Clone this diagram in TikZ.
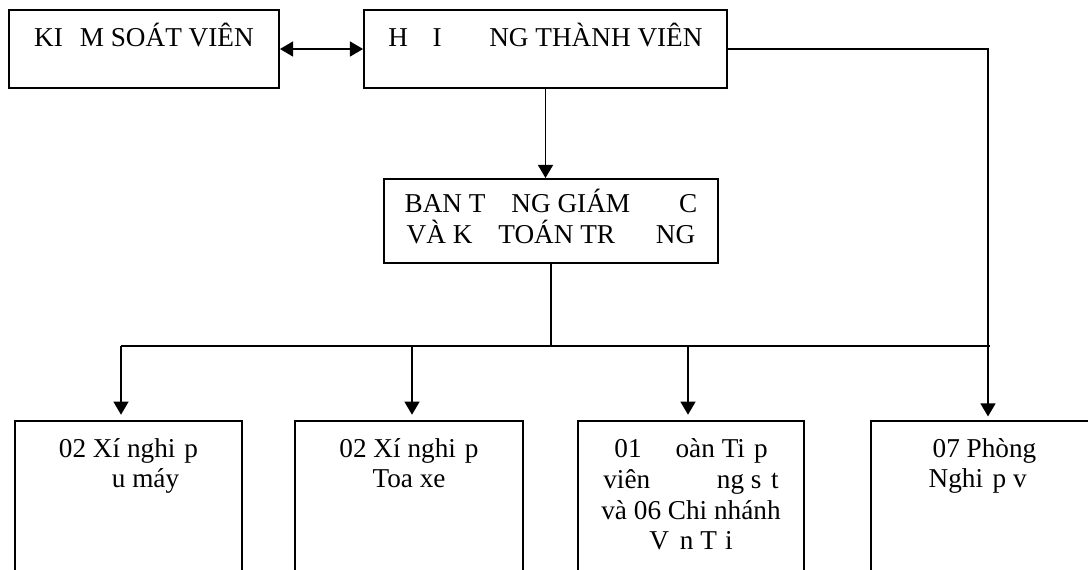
\documentclass[tikz,border=0pt]{standalone}
\usepackage{fontspec}
\setmainfont{Liberation Serif}
\usetikzlibrary{arrows.meta}
\newcommand{\gp}[1]{\hspace*{#1em}}

\begin{document}
\begin{tikzpicture}[
    x=0.02cm, y=-0.02cm,
    orgBox/.style={draw=black, line width=1.1pt, inner sep=0pt},
    orgText/.style={font=\fontsize{15.5}{17.6}\selectfont, align=center,
                    inner sep=0pt, anchor=base},
    orgLine/.style={draw=black, line width=1.1pt},
    orgArrow/.style={orgLine, -{Triangle[width=8.5pt,length=7.5pt]}}]
  \useasboundingbox (0,0) rectangle (1088,569);
  \clip (0,0) rectangle (1088,569);
  % top row
  \node[orgBox, minimum width=5.4cm, minimum height=1.56cm] (ksv) at (144,49) {};
  \node[orgBox, minimum width=7.26cm, minimum height=1.56cm] (hdtv) at (545.5,49) {};
  \node[orgText] (ksvT) at ([yshift=-0.74cm]ksv.north) {KI\gp{0.62}M SOÁT VIÊN};
  \node[orgText] (hdtvT) at ([yshift=-0.74cm]hdtv.north) {H\gp{0.9}I \gp{1.5}NG THÀNH VIÊN};
  % middle (base = last line)
  \node[orgBox, minimum width=6.68cm, minimum height=1.68cm] (ban) at (551,221) {};
  \node[orgText] (banT) at ([yshift=-1.30cm]ban.north)
    {BAN T\gp{0.95}NG GIÁM \gp{1.55}C\\VÀ K\gp{0.7} TOÁN TR\gp{1.5}NG};
  % bottom row
  \node[orgBox, anchor=north, minimum width=4.54cm, minimum height=3.8cm] (xnDm) at (128.5,420) {};
  \node[orgBox, anchor=north, minimum width=4.56cm, minimum height=3.8cm] (xnTx) at (409,420) {};
  \node[orgBox, anchor=north, minimum width=4.52cm, minimum height=3.8cm] (dtv) at (691,420) {};
  \node[orgBox, anchor=north, minimum width=4.54cm, minimum height=3.8cm] (pnv) at (984.5,420) {};
  \node[orgText] (xnDmT) at ([yshift=-1.36cm]xnDm.north) {02 Xí nghi\gp{0.33}p\\\gp{1.25}u máy};
  \node[orgText] (xnTxT) at ([yshift=-1.36cm]xnTx.north) {02 Xí nghi\gp{0.33}p\\Toa xe};
  \node[orgText] (dtvT) at ([yshift=-2.60cm]dtv.north)
    {01 \gp{1.0}oàn Ti\gp{0.33}p\\viên \gp{2.2}ng s\gp{0.35}t\\và 06 Chi nhánh\\V\gp{0.4}n T\gp{0.3}i};
  \node[orgText] (pnvT) at ([yshift=-1.36cm]pnv.north) {07 Phòng\\Nghi\gp{0.35}p v\gp{0.5}};
  % connectors
  \coordinate (busL) at (121,346);
  \coordinate (busR) at (990,346);
  \coordinate (rc) at (988,49);
  \draw[orgLine, {Triangle[width=8.5pt,length=7.5pt]}-{Triangle[width=8.5pt,length=7.5pt]}] (ksv.east) -- (hdtv.west);
  \draw[orgArrow] (hdtv.south) -- (hdtv.south |- ban.north);
  \draw[orgLine] (ban.south) -- (ban.south |- busL);
  \draw[orgLine] (busL) -- (busR);
  \draw[orgArrow, shorten >=3pt] (busL) -- (busL |- xnDm.north);
  \draw[orgArrow, shorten >=3pt] (412,346) -- (412,420);
  \draw[orgArrow, shorten >=3pt] (688,346) -- (688,420);
  \draw[orgArrow, shorten >=2pt] (hdtv.east) -- (rc) -- (rc |- pnv.north);
\end{tikzpicture}
\end{document}
